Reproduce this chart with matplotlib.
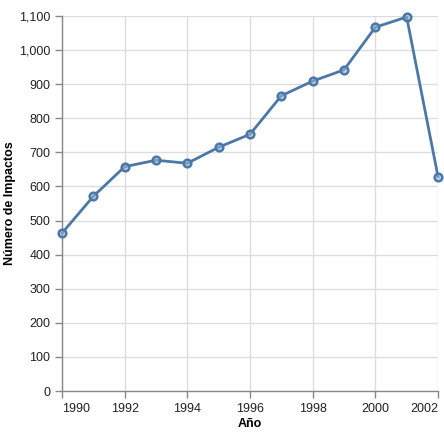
import matplotlib.pyplot as plt
from matplotlib.ticker import FuncFormatter

years = [1990, 1991, 1992, 1993, 1994, 1995, 1996, 1997, 1998, 1999, 2000, 2001, 2002]
impactos = [463, 571, 658, 677, 668, 715, 753, 866, 909, 942, 1067, 1097, 629]
xticks = [1990, 1992, 1994, 1996, 1998, 2000, 2002]
yticks = list(range(0, 1101, 100))

color = '#4c78a8'
plt.rcParams['font.family'] = ['Liberation Sans', 'DejaVu Sans']

fig = plt.figure(figsize=(4.44, 4.32), dpi=100)
ax = fig.add_axes([62 / 444, 41 / 432, 376 / 444, 375 / 432])

ax.plot(years, impactos, color=color, linewidth=2, zorder=3, clip_on=False)
ax.plot(years, impactos, linestyle='none', marker='o', markersize=5.5,
        markerfacecolor=(0.6, 0.7, 0.82, 0.6), markeredgecolor=color,
        markeredgewidth=1.8, clip_on=False, zorder=4)

ax.set_xlim(1990, 2002)
ax.set_ylim(0, 1100)
ax.set_xticks(xticks)
ax.set_yticks(yticks)
ax.yaxis.set_major_formatter(FuncFormatter(lambda v, p: f'{int(v):,}'))

ax.grid(True, color='#dddddd', linewidth=1)
ax.set_axisbelow(True)
for side in ['top', 'right']:
    ax.spines[side].set_visible(False)
for side in ['left', 'bottom']:
    ax.spines[side].set_color('#888888')
    ax.spines[side].set_linewidth(1)
ax.tick_params(colors='#888888', labelcolor='#222222', labelsize=9, length=5, width=1)

xlabels = ax.get_xticklabels()
xlabels[0].set_horizontalalignment('left')
xlabels[-1].set_horizontalalignment('right')

ax.set_xlabel('Año', fontsize=9, fontweight='bold', labelpad=2)
ax.set_ylabel('Número de Impactos', fontsize=9, fontweight='bold')
ax.yaxis.set_label_coords(-0.122, 0.5)

fig.savefig('out.png', dpi=100)
